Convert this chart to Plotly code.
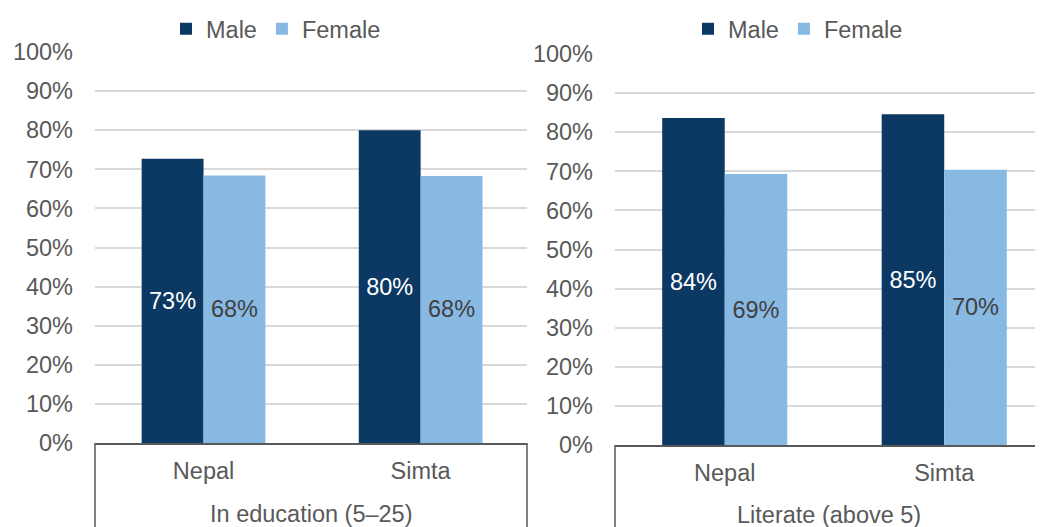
import plotly.graph_objects as go

# page body has an 8px margin, so the figure is drawn 8px in from the corner
OFF = 8
W, H = 1043 - OFF, 527 - OFF

categories = ["Nepal", "Simta"]
edu_male = [0.727, 0.800]
edu_female = [0.684, 0.683]
lit_male = [0.836, 0.846]
lit_female = [0.693, 0.704]
group_labels = ["In education (5–25)", "Literate (above 5)"]

male_color = "#0c3864"
female_color = "#88b9e3"
grey = "#595959"
font = "Liberation Sans, Arial, sans-serif"
fs = 23.5

# plot areas in screen pixels (left, right, top, bottom)
left_box = (95, 527, 52, 443)
right_box = (615, 1043, 54, 445)


def px_x(v):
    return (v - OFF) / W


def px_y(v):
    return 1 - (v - OFF) / H


fig = go.Figure()


def add_bars(xa, ya, legend, male, female):
    fig.add_trace(go.Bar(
        x=categories, y=male, name="Male", xaxis=xa, yaxis=ya, legend=legend,
        marker=dict(color=male_color, line=dict(width=0)),
        texttemplate="%{y:.0%}", textposition="inside", insidetextanchor="middle",
        textangle=0, constraintext="none",
        insidetextfont=dict(color="white", size=fs, family=font)))
    fig.add_trace(go.Bar(
        x=categories, y=female, name="Female", xaxis=xa, yaxis=ya, legend=legend,
        marker=dict(color=female_color, line=dict(width=0)),
        texttemplate="%{y:.0%}", textposition="inside", insidetextanchor="middle",
        textangle=0, constraintext="none",
        insidetextfont=dict(color="#404040", size=fs, family=font)))


add_bars("x", "y", "legend", edu_male, edu_female)
add_bars("x2", "y2", "legend2", lit_male, lit_female)

xcommon = dict(showgrid=False, zeroline=False, showline=True, linecolor=grey,
               linewidth=1.5, ticks="", ticklabelstandoff=6,
               tickfont=dict(size=fs, color=grey, family=font), fixedrange=True)
ycommon = dict(range=[0, 1.0], dtick=0.1, tickformat=".0%", showgrid=True,
               gridcolor="#d9d9d9", gridwidth=1.5, zeroline=False, showline=False,
               ticks="", ticklabelstandoff=21,
               tickfont=dict(size=fs, color=grey, family=font))

legcommon = dict(orientation="h", xanchor="center", yanchor="middle",
                 font=dict(size=fs, color=grey, family=font),
                 bgcolor="rgba(0,0,0,0)", itemwidth=30, traceorder="normal")

fig.update_layout(
    width=W, height=H,
    margin=dict(l=0, r=0, t=0, b=0, autoexpand=False),
    paper_bgcolor="white", plot_bgcolor="white",
    barmode="group", bargap=0.43, bargroupgap=0,
    font=dict(family=font, color=grey),
    xaxis=dict(domain=[px_x(left_box[0]), px_x(left_box[1])], range=[-0.5, 1.49],
               anchor="y", **xcommon),
    yaxis=dict(domain=[px_y(left_box[3]), px_y(left_box[2])], anchor="x", **ycommon),
    xaxis2=dict(domain=[px_x(right_box[0]), px_x(right_box[1])], range=[-0.5, 1.45],
                anchor="y2", **xcommon),
    yaxis2=dict(domain=[px_y(right_box[3]), px_y(right_box[2])], anchor="x2", **ycommon),
    legend=dict(x=px_x(276), y=px_y(29), **legcommon),
    legend2=dict(x=px_x(798), y=px_y(29), **legcommon),
    showlegend=True,
)

# category group boxes below each axis
for box in (left_box, right_box):
    for xv in (box[0], box[1]):
        fig.add_shape(type="line", xref="paper", yref="paper",
                      x0=px_x(xv), x1=px_x(xv), y0=0, y1=px_y(box[3]),
                      line=dict(color=grey, width=1.5))

for box, label, ypos in ((left_box, group_labels[0], 514), (right_box, group_labels[1], 515)):
    fig.add_annotation(text=label, xref="paper", yref="paper",
                       x=px_x((box[0] + box[1]) / 2), y=px_y(ypos),
                       xanchor="center", yanchor="middle", showarrow=False,
                       font=dict(size=fs, color=grey, family=font))

fig.write_html("out.html")
